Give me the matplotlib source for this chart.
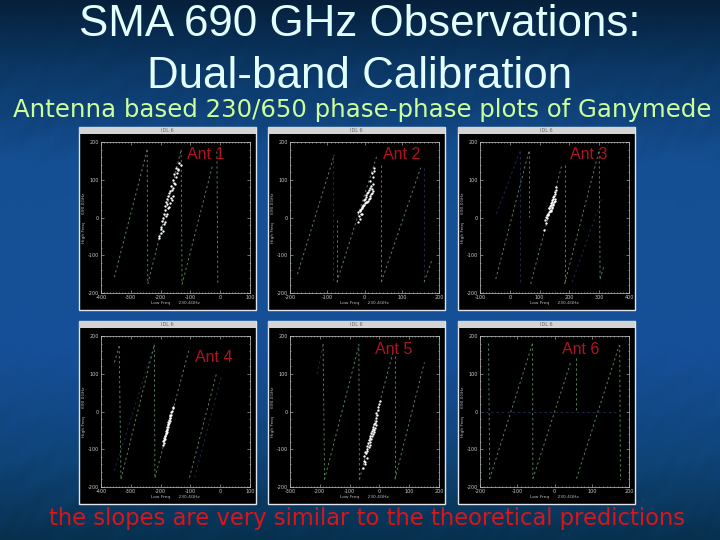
import numpy as np
import matplotlib
matplotlib.use("Agg")
import matplotlib.pyplot as plt
from matplotlib.colors import LinearSegmentedColormap
from matplotlib.patches import Rectangle
from matplotlib.ticker import MultipleLocator

plt.rcParams["axes.unicode_minus"] = False

# panel labels and window positions, in pixels
ant_names = ["Ant 1", "Ant 2", "Ant 3", "Ant 4", "Ant 5", "Ant 6"]
ant_label_xy = [(206, 155), (402, 155), (589, 155), (214, 358), (394, 350), (581, 350)]

x_ticks = [
    [-400, -300, -200, -100, 0, 100],
    [-200, -100, 0, 100, 200],
    [-100, 0, 100, 200, 300, 400],
    [-400, -300, -200, -100, 0, 100],
    [-300, -200, -100, 0, 100, 200],
    [-200, -100, 0, 100, 200],
]

# theoretical lines, x0 y0 x1 y1
ant1_lines = [(-355, -158, -245, 179), (-245, 179, -243, -176), (-243, -176, -131, 179),
              (-131, 179, -128, -177), (-128, -177, -25, 140), (-11, 175, -8, -176)]
ant2_lines = [(-180, -150, -81, 166), (-74, -7, -74, -171), (-74, -171, 34, 166),
              (45, 140, 45, -171), (45, -171, 151, 132), (160, -171, 180, -115)]
ant2_faint = [(-85, 166, -85, -171), (160, 132, 160, -171)]
ant3_lines = [(-47, -163, 64, 175), (64, 175, 64, 2), (70, -176, 175, 140),
              (184, 140, 184, -176), (184, -176, 299, 175), (300, 175, 303, -163),
              (303, -163, 316, -128)]
ant3_faint = [(-45, 10, 34, 175), (34, 175, 34, -171), (209, -171, 311, 54)]
ant4_lines = [(-355, 130, -339, 173), (-339, 173, -333, -179), (-333, -179, -221, 177),
              (-221, 177, -219, -175), (-219, -175, -103, 169), (-103, -175, -13, 99)]
ant4_faint = [(-355, -157, -221, 177), (-86, -175, 3, 90)]
ant5_lines = [(-189, 179, -184, -180), (-184, -180, -69, 174), (-69, 179, -67, -180),
              (-67, -180, 47, 161), (52, 148, 52, -180), (52, -180, 151, 130)]
ant5_faint = [(-209, 99, -189, 179)]
ant6_lines = [(-177, 180, -174, -178), (-174, -178, -59, 180), (-59, 180, -58, -178),
              (-58, -178, 44, 132), (58, 141, 58, 0), (59, -178, 174, 176), (175, 176, 177, -182)]
ant6_faint = [(-200, 0, 172, 0)]

all_lines = [ant1_lines, ant2_lines, ant3_lines, ant4_lines, ant5_lines, ant6_lines]
all_faint = [[], ant2_faint, ant3_faint, ant4_faint, ant5_faint, ant6_faint]

# phase-phase points
ant1_x = [-204, -198, -206, -197, -192, -200, -189, -196, -185, -193, -182, -190, -180, -186, -176,
          -184, -178, -173, -181, -170, -177, -166, -174, -163, -171, -160, -168, -158, -165, -156,
          -162, -152, -159, -148, -155, -146, -142, -150, -137, -133, -140]
ant1_y = [-55, -42, -48, -30, -35, -25, -18, -8, -12, 0, 4, 10, 8, 20, 24,
          30, 36, 28, 42, 38, 48, 52, 58, 46, 64, 56, 70, 78, 84, 92,
          74, 88, 100, 108, 114, 118, 126, 132, 145, 138, 128]
ant2_x = [-17, -12, -15, -10, -18, -8, -13, -6, -11, -3, -9, -1, -6, 2, -4, 4, -2, 7, 0, 9,
          3, 12, 5, 14, 7, 16, 10, 18, 13, 20, 15, 22, 17, 19, 24, 16, 22, 20, 26, 25]
ant2_y = [-11, -4, 3, 10, 14, 8, 20, 26, 16, 30, 22, 34, 27, 38, 32, 42, 46, 40, 50, 44,
          54, 48, 60, 52, 64, 56, 68, 62, 74, 66, 78, 70, 84, 76, 88, 98, 106, 118, 132, 124]
ant3_x = [116, 120, 119, 124, 127, 123, 129, 126, 132, 128, 135, 130, 137, 133, 139, 135, 141, 137,
          143, 139, 145, 141, 146, 143, 148, 145, 150, 146, 152, 148, 153, 151, 155, 156]
ant3_y = [-33, -14, -6, 0, 6, 2, 10, 6, 14, 10, 18, 24, 16, 26, 20, 30, 24, 34,
          28, 38, 32, 42, 36, 46, 40, 50, 44, 54, 48, 58, 62, 68, 74, 80]
ant4_x = [-193, -188, -191, -186, -189, -184, -187, -182, -185, -180, -183, -178, -181, -176, -179,
          -174, -178, -172, -176, -170, -174, -168, -172, -167, -170, -165, -168, -166, -163, -160, -159]
ant4_y = [-88, -84, -78, -72, -76, -66, -70, -60, -64, -54, -58, -48, -52, -42, -46,
          -36, -40, -30, -34, -24, -28, -18, -22, -12, -16, -8, -10, -2, 2, 8, 12]
ant5_x = [-56, -50, -52, -47, -53, -43, -46, -40, -47, -36, -42, -33, -41, -30, -38, -27, -35, -24,
          -33, -22, -30, -19, -28, -17, -25, -14, -23, -12, -20, -16, -18, -10, -13, -8, -11, -6, -5, -2, 1]
ant5_y = [-149, -140, -130, -134, -118, -124, -110, -104, -108, -94, -100, -88, -92, -80, -84, -72, -76, -66,
          -70, -60, -64, -54, -58, -48, -52, -44, -40, -36, -46, -30, -34, -24, -16, -10, -4, 4, 12, 20, 27]
ant6_x = []
ant6_y = []

all_x = [ant1_x, ant2_x, ant3_x, ant4_x, ant5_x, ant6_x]
all_y = [ant1_y, ant2_y, ant3_y, ant4_y, ant5_y, ant6_y]

title_lines = ["SMA 690 GHz Observations:", "Dual-band Calibration"]
subtitle = "Antenna based 230/650 phase-phase plots of Ganymede"
caption = "the slopes are very similar to the theoretical predictions"

fig = plt.figure(figsize=(7.2, 5.4), dpi=100)

# slide background, in pixel coordinates
bg = fig.add_axes([0, 0, 1, 1])
bg.set_xlim(0, 720)
bg.set_ylim(540, 0)
bg.axis("off")
bg_cmap = LinearSegmentedColormap.from_list(
    "slide",
    [(0.0, "#06203c"), (0.12, "#0b3764"), (0.3, "#154f93"), (0.65, "#164f98"),
     (0.85, "#0f4478"), (1.0, "#07304e")],
)
yy, xx = np.mgrid[0:540, 0:720]
streaks = (np.sin((xx + 1.6 * yy) / 9.0) * np.sin((xx - 0.7 * yy) / 37.0)
           + 0.6 * np.sin((2.1 * xx + yy) / 6.3) * np.sin((xx + 3.0 * yy) / 53.0))
shade = yy / 540.0 + 0.012 * streaks * np.clip(yy / 120.0, 0, 1)
bg.imshow(shade, cmap=bg_cmap, vmin=0, vmax=1, extent=(0, 720, 540, 0), aspect="auto", zorder=0)

win_left = [79, 268, 458]
win_top = [127, 321]
win_w = 177
win_h = 183

for i in range(6):
    wx = win_left[i % 3]
    wy = win_top[i // 3]
    bg.add_patch(Rectangle((wx, wy), win_w, win_h, fc="black", ec="#dfe6ee", lw=1.0, zorder=1))
    bg.add_patch(Rectangle((wx, wy), win_w, 7, fc="#d4d4d4", ec="none", zorder=2))
    bg.text(wx + win_w / 2, wy + 3.5, "IDL 6", fontsize=3.5, color="#666666",
            ha="center", va="center", zorder=3)

    ax = fig.add_axes([(wx + 22) / 720, 1 - (wy + 166) / 540, 149 / 720, 151 / 540], facecolor="black")
    ticks = x_ticks[i]
    ax.set_xlim(ticks[0], ticks[-1])
    ax.set_ylim(-200, 200)
    ax.set_xticks(ticks)
    ax.set_yticks([-200, -100, 0, 100, 200])
    ax.xaxis.set_minor_locator(MultipleLocator(10))
    ax.yaxis.set_minor_locator(MultipleLocator(20))
    ax.tick_params(which="both", direction="in", top=True, right=True, colors="#c8c8c8",
                   labelsize=3.5, length=2, width=0.4, pad=1.5)
    ax.tick_params(which="minor", length=1)
    for s in ax.spines.values():
        s.set_color("#c8c8c8")
        s.set_linewidth(0.5)
    ax.set_xlabel("Low Freq      230.4GHz", fontsize=3.2, color="#bbbbbb", labelpad=0.5)
    ax.set_ylabel("High Freq      690.0GHz", fontsize=3.2, color="#bbbbbb", labelpad=1)

    for x0, y0, x1, y1 in all_faint[i]:
        ax.plot([x0, x1], [y0, y1], color="#20264e", lw=0.7, ls=(0, (2.5, 3)))
    for x0, y0, x1, y1 in all_lines[i]:
        ax.plot([x0, x1], [y0, y1], color="#5f8a62", lw=0.65, ls=(0, (2.5, 3)))
    if all_x[i]:
        ax.scatter(all_x[i], all_y[i], s=2.8, color="white", lw=0, zorder=5)

    lx, ly = ant_label_xy[i]
    fig.text(lx / 720, 1 - ly / 540, ant_names[i], color="#b01222", fontsize=11.5,
             family="Liberation Sans", ha="center", va="center", zorder=10)

fig.text(360 / 720, 1 - 24 / 540, title_lines[0], color="#e4ffff", fontsize=31.6,
         family="Liberation Sans", ha="center", va="center")
fig.text(360 / 720, 1 - 76 / 540, title_lines[1], color="#e4ffff", fontsize=31.6,
         family="Liberation Sans", ha="center", va="center")
fig.text(362 / 720, 1 - 110 / 540, subtitle, color="#ccff99", fontsize=17.6,
         family="DejaVu Sans", ha="center", va="center")
fig.text(367 / 720, 1 - 518 / 540, caption, color="#dd1418", fontsize=16.3,
         family="DejaVu Sans", ha="center", va="center")

fig.savefig("out.png", dpi=100)
